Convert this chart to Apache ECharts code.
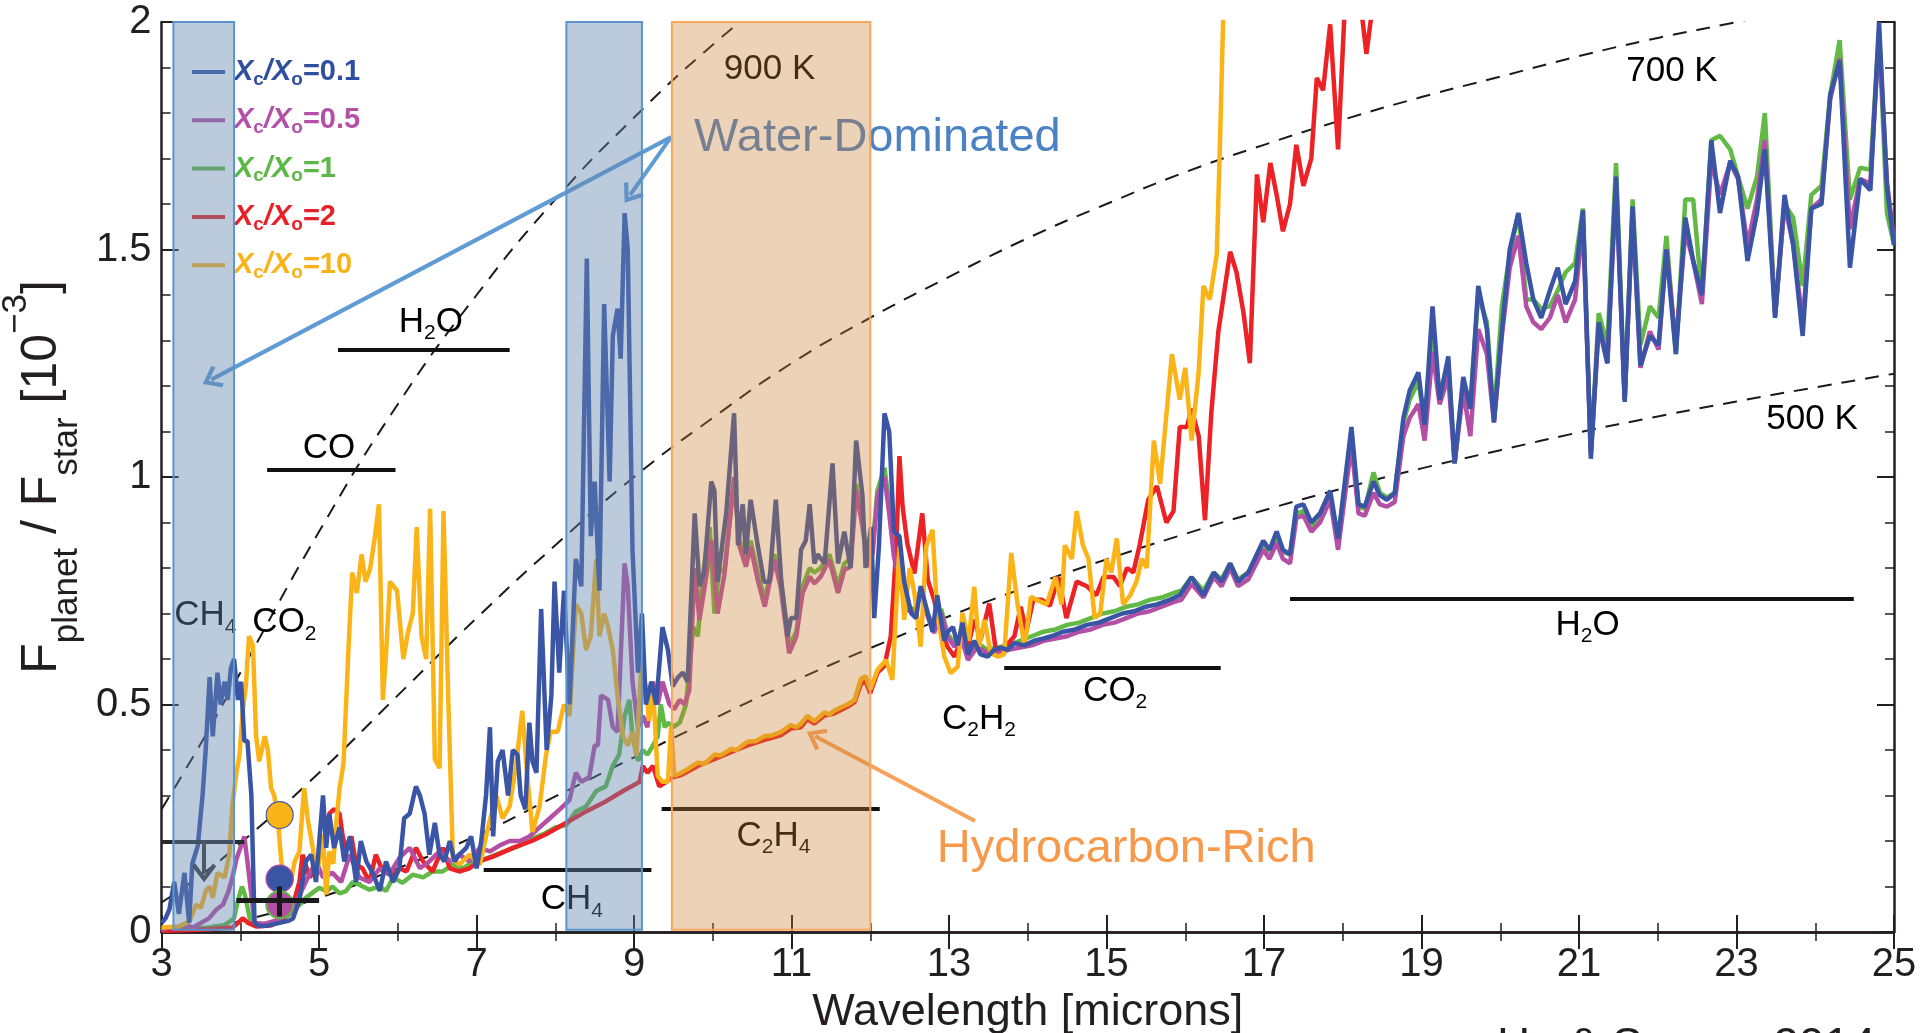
<!DOCTYPE html>
<html>
<head>
<meta charset="utf-8">
<title>Emission spectra, Hu &amp; Seager 2014</title>
<script src="https://cdn.jsdelivr.net/npm/echarts@6/dist/echarts.min.js"></script>
<style>
html, body { margin: 0; padding: 0; background: #fff; }
#main { width: 1920px; height: 1033px; }
</style>
</head>
<body>
<div id="main"></div>
<script>
// [wavelength (microns), Fplanet/Fstar (1e-3)]
const ratio01 = [[3.00,0.02],[3.05,0.03],[3.10,0.05],[3.16,0.11],[3.22,0.04],[3.29,0.13],[3.35,0.02],[3.39,0.15],[3.46,0.19],[3.52,0.30],[3.56,0.40],[3.61,0.56],[3.65,0.43],[3.71,0.57],[3.75,0.50],[3.80,0.55],[3.84,0.51],[3.88,0.58],[3.92,0.60],[3.97,0.51],[4.01,0.55],[4.05,0.42],[4.09,0.42],[4.14,0.30],[4.18,0.02],[4.24,0.013],[4.35,0.014],[4.50,0.02],[4.62,0.025],[4.67,0.03],[4.75,0.07],[4.83,0.155],[4.90,0.17],[4.96,0.11],[5.05,0.30],[5.09,0.185],[5.13,0.26],[5.19,0.185],[5.26,0.23],[5.32,0.155],[5.39,0.21],[5.47,0.11],[5.53,0.20],[5.60,0.155],[5.68,0.13],[5.77,0.09],[5.85,0.155],[5.94,0.11],[6.02,0.14],[6.08,0.25],[6.15,0.26],[6.23,0.32],[6.28,0.30],[6.34,0.26],[6.40,0.17],[6.47,0.24],[6.53,0.17],[6.59,0.155],[6.66,0.20],[6.72,0.155],[6.78,0.17],[6.87,0.185],[6.93,0.21],[7.00,0.14],[7.06,0.20],[7.12,0.30],[7.17,0.45],[7.21,0.21],[7.27,0.375],[7.33,0.40],[7.40,0.30],[7.46,0.40],[7.52,0.39],[7.56,0.30],[7.62,0.27],[7.67,0.46],[7.71,0.375],[7.76,0.35],[7.82,0.71],[7.89,0.40],[7.95,0.52],[7.99,0.77],[8.05,0.57],[8.11,0.75],[8.18,0.50],[8.26,0.82],[8.33,0.76],[8.40,1.48],[8.45,0.87],[8.50,0.99],[8.56,0.75],[8.62,1.38],[8.69,0.99],[8.73,1.31],[8.79,1.37],[8.83,1.26],[8.88,1.58],[8.92,1.50],[8.98,0.84],[9.05,0.57],[9.10,0.70],[9.15,0.50],[9.22,0.55],[9.28,0.50],[9.36,0.67],[9.43,0.62],[9.49,0.54],[9.56,0.56],[9.62,0.57],[9.68,0.55],[9.77,0.92],[9.83,0.76],[9.89,0.79],[9.98,0.99],[10.02,0.97],[10.06,0.77],[10.17,0.92],[10.27,1.14],[10.32,0.85],[10.38,0.94],[10.42,0.83],[10.48,0.95],[10.57,0.85],[10.65,0.77],[10.72,0.77],[10.80,0.95],[10.87,0.77],[10.95,0.65],[10.99,0.69],[11.06,0.69],[11.12,0.84],[11.18,0.86],[11.23,0.94],[11.29,0.81],[11.33,0.83],[11.42,0.81],[11.52,1.03],[11.59,0.81],[11.67,0.88],[11.75,0.80],[11.82,1.08],[11.90,0.96],[11.94,0.80],[12.01,0.89],[12.05,0.69],[12.11,0.85],[12.18,1.14],[12.24,1.10],[12.30,0.88],[12.37,0.87],[12.43,0.77],[12.52,0.70],[12.58,0.69],[12.64,0.76],[12.73,0.70],[12.79,0.66],[12.85,0.74],[12.94,0.64],[12.98,0.66],[13.05,0.67],[13.11,0.63],[13.17,0.68],[13.24,0.61],[13.32,0.64],[13.40,0.61],[13.49,0.605],[13.57,0.62],[13.66,0.625],[13.74,0.62],[13.83,0.635],[13.96,0.63],[14.08,0.64],[14.20,0.645],[14.30,0.65],[14.45,0.66],[14.60,0.665],[14.75,0.675],[14.90,0.68],[15.05,0.69],[15.20,0.70],[15.35,0.705],[15.50,0.715],[15.64,0.72],[15.80,0.73],[15.93,0.74],[16.08,0.78],[16.23,0.74],[16.36,0.79],[16.46,0.77],[16.57,0.81],[16.67,0.77],[16.80,0.79],[16.99,0.86],[17.07,0.84],[17.16,0.88],[17.24,0.84],[17.33,0.83],[17.41,0.935],[17.50,0.94],[17.60,0.90],[17.71,0.92],[17.84,0.97],[17.94,0.865],[18.11,1.11],[18.20,0.94],[18.28,0.935],[18.39,0.99],[18.47,0.96],[18.56,0.95],[18.66,0.965],[18.77,1.13],[18.85,1.19],[18.96,1.23],[19.04,1.115],[19.14,1.375],[19.23,1.17],[19.34,1.265],[19.42,1.03],[19.53,1.22],[19.62,1.15],[19.72,1.42],[19.83,1.325],[19.92,1.12],[20.02,1.32],[20.12,1.50],[20.23,1.58],[20.33,1.47],[20.42,1.39],[20.52,1.35],[20.63,1.41],[20.73,1.46],[20.83,1.38],[20.95,1.43],[21.05,1.586],[21.15,1.04],[21.25,1.34],[21.36,1.25],[21.47,1.66],[21.58,1.165],[21.68,1.595],[21.78,1.245],[21.90,1.31],[22.01,1.29],[22.11,1.50],[22.23,1.27],[22.35,1.57],[22.45,1.475],[22.56,1.40],[22.68,1.74],[22.79,1.58],[22.92,1.695],[23.02,1.66],[23.14,1.475],[23.26,1.58],[23.36,1.72],[23.49,1.35],[23.61,1.62],[23.72,1.51],[23.84,1.31],[23.95,1.59],[24.08,1.60],[24.19,1.84],[24.31,1.915],[24.44,1.46],[24.57,1.655],[24.70,1.63],[24.81,2.0],[24.91,1.64],[25.00,1.51]];

const ratio05 = [[3.00,0.005],[3.10,0.01],[3.20,0.008],[3.30,0.015],[3.40,0.01],[3.50,0.02],[3.60,0.03],[3.70,0.05],[3.78,0.06],[3.85,0.09],[3.90,0.12],[3.95,0.16],[4.01,0.19],[4.05,0.21],[4.09,0.155],[4.14,0.08],[4.18,0.02],[4.30,0.018],[4.45,0.025],[4.62,0.04],[4.75,0.08],[4.83,0.11],[4.96,0.155],[5.05,0.12],[5.17,0.13],[5.28,0.11],[5.39,0.17],[5.51,0.12],[5.64,0.11],[5.77,0.14],[5.89,0.126],[6.02,0.163],[6.15,0.185],[6.28,0.14],[6.40,0.155],[6.53,0.177],[6.66,0.155],[6.78,0.17],[6.91,0.155],[7.04,0.185],[7.17,0.177],[7.29,0.19],[7.42,0.20],[7.55,0.20],[7.67,0.21],[7.80,0.23],[7.93,0.25],[8.06,0.27],[8.18,0.29],[8.26,0.35],[8.33,0.33],[8.43,0.34],[8.50,0.41],[8.54,0.41],[8.58,0.52],[8.67,0.51],[8.73,0.45],[8.79,0.44],[8.88,0.81],[8.92,0.76],[8.98,0.55],[9.05,0.45],[9.11,0.475],[9.17,0.45],[9.24,0.55],[9.30,0.50],[9.36,0.55],[9.45,0.50],[9.51,0.49],[9.58,0.51],[9.64,0.50],[9.70,0.53],[9.77,0.80],[9.83,0.686],[9.91,0.774],[9.98,0.862],[10.06,0.70],[10.15,0.788],[10.27,1.0],[10.34,0.847],[10.42,0.803],[10.48,0.847],[10.57,0.774],[10.66,0.715],[10.78,0.818],[10.86,0.759],[10.97,0.613],[11.06,0.649],[11.14,0.745],[11.23,0.781],[11.29,0.766],[11.37,0.781],[11.48,0.818],[11.59,0.745],[11.67,0.796],[11.75,0.803],[11.82,0.971],[11.90,0.891],[11.97,0.803],[12.03,0.832],[12.09,0.957],[12.18,1.0],[12.24,0.92],[12.30,0.825],[12.39,0.759],[12.47,0.708],[12.56,0.701],[12.64,0.745],[12.73,0.693],[12.81,0.657],[12.90,0.701],[12.98,0.649],[13.07,0.627],[13.15,0.649],[13.24,0.598],[13.36,0.627],[13.49,0.613],[13.60,0.61],[13.75,0.62],[13.90,0.625],[14.05,0.63],[14.20,0.64],[14.35,0.645],[14.50,0.65],[14.65,0.66],[14.80,0.665],[14.95,0.675],[15.10,0.68],[15.25,0.69],[15.40,0.70],[15.55,0.705],[15.70,0.715],[15.85,0.725],[15.95,0.73],[16.08,0.765],[16.23,0.735],[16.36,0.78],[16.46,0.76],[16.57,0.80],[16.67,0.76],[16.80,0.775],[16.99,0.84],[17.07,0.82],[17.16,0.855],[17.24,0.82],[17.33,0.81],[17.41,0.91],[17.50,0.915],[17.60,0.88],[17.71,0.90],[17.84,0.95],[17.94,0.84],[18.11,1.07],[18.20,0.92],[18.28,0.915],[18.39,0.965],[18.47,0.94],[18.56,0.935],[18.66,0.945],[18.77,1.09],[18.85,1.13],[18.96,1.16],[19.04,1.08],[19.14,1.275],[19.23,1.16],[19.34,1.22],[19.42,1.03],[19.53,1.19],[19.62,1.09],[19.72,1.325],[19.83,1.27],[19.92,1.12],[20.02,1.31],[20.12,1.46],[20.23,1.53],[20.33,1.375],[20.42,1.34],[20.52,1.325],[20.63,1.35],[20.73,1.40],[20.83,1.34],[20.95,1.39],[21.05,1.56],[21.15,1.05],[21.25,1.33],[21.36,1.25],[21.47,1.64],[21.58,1.17],[21.68,1.58],[21.78,1.24],[21.90,1.32],[22.01,1.28],[22.11,1.50],[22.23,1.29],[22.35,1.54],[22.45,1.475],[22.56,1.38],[22.68,1.695],[22.79,1.62],[22.92,1.69],[23.02,1.655],[23.14,1.51],[23.26,1.61],[23.36,1.74],[23.49,1.355],[23.61,1.60],[23.72,1.51],[23.84,1.34],[23.95,1.59],[24.08,1.61],[24.19,1.83],[24.31,1.92],[24.44,1.545],[24.57,1.655],[24.70,1.645],[24.81,1.97],[24.91,1.65],[25.00,1.52]];

const ratio1 = [[3.00,0.005],[3.20,0.006],[3.40,0.008],[3.60,0.01],[3.80,0.015],[3.92,0.03],[3.97,0.07],[4.02,0.10],[4.06,0.08],[4.12,0.03],[4.18,0.015],[4.30,0.015],[4.45,0.02],[4.60,0.035],[4.67,0.045],[4.83,0.075],[5.00,0.097],[5.10,0.09],[5.17,0.10],[5.26,0.085],[5.34,0.09],[5.43,0.11],[5.51,0.104],[5.64,0.093],[5.77,0.10],[5.85,0.09],[5.94,0.12],[6.06,0.108],[6.19,0.126],[6.32,0.12],[6.44,0.133],[6.57,0.133],[6.70,0.148],[6.83,0.14],[6.95,0.155],[7.10,0.16],[7.25,0.17],[7.40,0.18],[7.55,0.19],[7.70,0.205],[7.85,0.215],[8.00,0.23],[8.14,0.235],[8.26,0.265],[8.39,0.276],[8.52,0.31],[8.64,0.32],[8.73,0.365],[8.81,0.39],[8.88,0.475],[8.94,0.51],[8.98,0.43],[9.05,0.376],[9.11,0.40],[9.17,0.39],[9.24,0.41],[9.30,0.43],[9.34,0.50],[9.39,0.45],[9.43,0.46],[9.49,0.45],[9.58,0.46],[9.66,0.50],[9.75,0.67],[9.81,0.65],[9.87,0.78],[9.96,0.89],[10.02,0.70],[10.08,0.79],[10.15,0.80],[10.27,0.99],[10.34,0.86],[10.42,0.82],[10.48,0.86],[10.57,0.79],[10.66,0.73],[10.78,0.83],[10.86,0.78],[10.97,0.63],[11.06,0.66],[11.14,0.76],[11.23,0.80],[11.29,0.79],[11.37,0.80],[11.48,0.83],[11.59,0.76],[11.67,0.81],[11.75,0.82],[11.82,0.985],[11.90,0.90],[11.97,0.82],[12.03,0.85],[12.09,0.97],[12.18,1.02],[12.24,0.94],[12.30,0.84],[12.39,0.77],[12.47,0.72],[12.56,0.705],[12.64,0.75],[12.73,0.70],[12.81,0.665],[12.90,0.71],[12.98,0.655],[13.07,0.635],[13.15,0.655],[13.24,0.605],[13.36,0.635],[13.49,0.62],[13.60,0.625],[13.75,0.63],[13.90,0.64],[14.05,0.65],[14.20,0.66],[14.35,0.665],[14.50,0.675],[14.65,0.68],[14.80,0.69],[14.95,0.70],[15.10,0.705],[15.25,0.715],[15.40,0.72],[15.55,0.73],[15.70,0.735],[15.85,0.745],[15.95,0.75],[16.08,0.78],[16.23,0.75],[16.36,0.79],[16.46,0.775],[16.57,0.81],[16.67,0.775],[16.80,0.79],[16.99,0.85],[17.07,0.835],[17.16,0.87],[17.24,0.835],[17.33,0.83],[17.41,0.92],[17.50,0.925],[17.60,0.89],[17.71,0.915],[17.84,0.96],[17.94,0.86],[18.11,1.09],[18.20,0.935],[18.28,0.93],[18.39,1.01],[18.47,0.965],[18.56,0.955],[18.66,0.965],[18.77,1.12],[18.85,1.17],[18.96,1.21],[19.04,1.12],[19.14,1.31],[19.23,1.18],[19.34,1.25],[19.42,1.03],[19.53,1.21],[19.62,1.16],[19.72,1.40],[19.83,1.34],[19.92,1.13],[20.02,1.375],[20.12,1.49],[20.23,1.58],[20.33,1.39],[20.42,1.39],[20.52,1.37],[20.63,1.375],[20.73,1.41],[20.83,1.45],[20.95,1.47],[21.05,1.59],[21.15,1.05],[21.25,1.36],[21.36,1.29],[21.47,1.69],[21.58,1.17],[21.68,1.61],[21.78,1.29],[21.90,1.375],[22.01,1.35],[22.11,1.53],[22.23,1.27],[22.35,1.61],[22.45,1.61],[22.56,1.40],[22.68,1.74],[22.79,1.75],[22.92,1.72],[23.02,1.66],[23.14,1.59],[23.26,1.66],[23.36,1.80],[23.49,1.355],[23.61,1.60],[23.72,1.57],[23.84,1.42],[23.95,1.62],[24.08,1.64],[24.19,1.84],[24.31,1.96],[24.44,1.61],[24.57,1.68],[24.70,1.675],[24.81,1.98],[24.91,1.58],[25.00,1.51]];

const ratio2 = [[3.00,0.003],[3.30,0.004],[3.60,0.006],[3.90,0.01],[3.97,0.02],[4.03,0.03],[4.10,0.02],[4.20,0.012],[4.40,0.015],[4.55,0.03],[4.67,0.06],[4.75,0.11],[4.79,0.17],[4.88,0.12],[4.96,0.14],[5.05,0.19],[5.13,0.26],[5.19,0.27],[5.26,0.26],[5.30,0.21],[5.34,0.185],[5.41,0.21],[5.47,0.148],[5.55,0.14],[5.64,0.11],[5.72,0.17],[5.81,0.133],[5.94,0.126],[6.02,0.14],[6.11,0.133],[6.23,0.185],[6.32,0.155],[6.44,0.133],[6.57,0.185],[6.66,0.14],[6.78,0.133],[6.91,0.14],[7.03,0.155],[7.20,0.165],[7.46,0.185],[7.70,0.20],[7.88,0.215],[8.14,0.24],[8.39,0.265],[8.64,0.287],[8.86,0.31],[9.07,0.33],[9.11,0.365],[9.17,0.35],[9.24,0.365],[9.32,0.32],[9.41,0.33],[9.49,0.34],[9.60,0.345],[9.81,0.365],[10.02,0.38],[10.23,0.395],[10.44,0.41],[10.65,0.422],[10.87,0.433],[10.99,0.447],[11.12,0.45],[11.20,0.468],[11.29,0.458],[11.42,0.476],[11.54,0.48],[11.63,0.488],[11.71,0.495],[11.80,0.505],[11.88,0.545],[11.94,0.55],[12.00,0.525],[12.09,0.57],[12.18,0.585],[12.26,0.65],[12.33,0.847],[12.37,1.046],[12.41,0.935],[12.47,0.854],[12.56,0.788],[12.66,0.92],[12.73,0.774],[12.81,0.73],[12.90,0.664],[12.98,0.627],[13.07,0.605],[13.15,0.642],[13.24,0.627],[13.32,0.686],[13.40,0.642],[13.51,0.722],[13.60,0.613],[13.68,0.62],[13.83,0.65],[13.91,0.715],[13.98,0.66],[14.07,0.73],[14.18,0.73],[14.28,0.717],[14.39,0.78],[14.49,0.69],[14.62,0.77],[14.75,0.76],[14.87,0.74],[14.96,0.78],[15.09,0.78],[15.17,0.76],[15.26,0.80],[15.34,0.79],[15.42,0.85],[15.53,0.95],[15.64,0.98],[15.76,0.90],[15.85,0.925],[15.93,1.11],[16.02,1.11],[16.08,1.15],[16.17,1.09],[16.25,0.905],[16.33,1.14],[16.42,1.32],[16.48,1.39],[16.57,1.495],[16.65,1.45],[16.74,1.36],[16.82,1.25],[16.91,1.665],[16.99,1.56],[17.08,1.69],[17.16,1.62],[17.24,1.54],[17.33,1.60],[17.41,1.73],[17.50,1.64],[17.60,1.70],[17.67,1.877],[17.75,1.85],[17.84,1.995],[17.94,1.72],[18.03,2.05],[18.12,2.30],[18.22,2.05],[18.30,1.93],[18.39,2.05],[18.50,2.40]];

const ratio10 = [[3.00,0.01],[3.22,0.012],[3.35,0.023],[3.44,0.06],[3.50,0.053],[3.56,0.09],[3.61,0.10],[3.65,0.075],[3.71,0.13],[3.80,0.12],[3.86,0.17],[3.90,0.28],[3.95,0.35],[3.99,0.39],[4.03,0.485],[4.07,0.54],[4.11,0.65],[4.16,0.63],[4.20,0.43],[4.24,0.375],[4.31,0.43],[4.35,0.40],[4.39,0.316],[4.43,0.30],[4.47,0.26],[4.52,0.155],[4.58,0.097],[4.64,0.11],[4.69,0.155],[4.75,0.177],[4.81,0.316],[4.86,0.243],[4.92,0.185],[4.96,0.12],[5.00,0.155],[5.05,0.214],[5.09,0.082],[5.13,0.177],[5.18,0.15],[5.22,0.243],[5.26,0.316],[5.31,0.37],[5.37,0.61],[5.42,0.79],[5.48,0.745],[5.54,0.83],[5.59,0.77],[5.65,0.80],[5.71,0.87],[5.76,0.94],[5.81,0.51],[5.85,0.61],[5.90,0.77],[5.99,0.75],[6.07,0.60],[6.13,0.66],[6.19,0.70],[6.24,0.89],[6.30,0.65],[6.36,0.60],[6.41,0.93],[6.47,0.38],[6.53,0.36],[6.58,0.925],[6.64,0.515],[6.70,0.16],[6.78,0.148],[6.91,0.17],[7.04,0.148],[7.16,0.24],[7.25,0.30],[7.33,0.25],[7.42,0.276],[7.50,0.365],[7.58,0.486],[7.65,0.33],[7.71,0.22],[7.80,0.276],[7.88,0.387],[7.94,0.44],[8.03,0.44],[8.11,0.50],[8.18,0.475],[8.26,0.72],[8.33,0.70],[8.39,0.62],[8.45,0.65],[8.52,0.82],[8.56,0.65],[8.62,0.70],[8.67,0.67],[8.73,0.62],[8.79,0.52],[8.86,0.43],[8.92,0.41],[8.98,0.44],[9.03,0.387],[9.09,0.585],[9.15,0.54],[9.19,0.464],[9.24,0.54],[9.30,0.343],[9.36,0.33],[9.43,0.33],[9.47,0.453],[9.51,0.343],[9.60,0.35],[9.70,0.36],[9.81,0.372],[9.90,0.37],[10.02,0.39],[10.10,0.388],[10.23,0.402],[10.30,0.40],[10.44,0.418],[10.55,0.42],[10.65,0.43],[10.75,0.432],[10.87,0.44],[10.99,0.455],[11.06,0.45],[11.12,0.458],[11.20,0.475],[11.29,0.463],[11.42,0.483],[11.48,0.478],[11.54,0.486],[11.63,0.494],[11.71,0.50],[11.80,0.51],[11.88,0.556],[11.94,0.562],[12.00,0.533],[12.09,0.576],[12.20,0.598],[12.28,0.554],[12.37,0.847],[12.43,0.686],[12.50,0.80],[12.56,0.745],[12.64,0.627],[12.71,0.847],[12.79,0.884],[12.85,0.701],[12.94,0.605],[13.02,0.569],[13.11,0.583],[13.17,0.701],[13.25,0.64],[13.32,0.759],[13.38,0.627],[13.45,0.686],[13.53,0.613],[13.62,0.605],[13.70,0.61],[13.79,0.833],[13.87,0.72],[13.96,0.627],[14.04,0.737],[14.11,0.73],[14.24,0.72],[14.35,0.78],[14.43,0.72],[14.47,0.85],[14.56,0.82],[14.62,0.925],[14.70,0.85],[14.77,0.82],[14.85,0.69],[14.92,0.70],[15.00,0.82],[15.06,0.79],[15.13,0.865],[15.21,0.72],[15.30,0.74],[15.38,0.77],[15.45,0.82],[15.51,0.80],[15.60,1.08],[15.68,0.985],[15.83,1.27],[15.93,1.17],[16.00,1.24],[16.08,1.08],[16.17,1.23],[16.23,1.42],[16.31,1.39],[16.40,1.49],[16.44,1.73],[16.48,2.0],[16.55,2.5]];

// blackbody reference curves
const bbWave = [3, 3.5, 4, 5, 6, 7, 8, 9, 10, 11, 12, 13, 14, 15, 16, 17, 18, 19, 20, 21, 22, 23, 24, 25];
const bb900 = [0.27, 0.415, 0.57, 0.88, 1.16, 1.40, 1.61, 1.79, 1.95, 2.09];
const bb700 = [0.065, 0.125, 0.195, 0.35, 0.52, 0.69, 0.85, 1.0, 1.13, 1.25, 1.35, 1.44, 1.525, 1.60, 1.67, 1.73, 1.785, 1.835, 1.88, 1.925, 1.965, 2.0, 2.04];
const bb500 = [0.004, 0.011, 0.024, 0.075, 0.14, 0.212, 0.298, 0.384, 0.468, 0.549, 0.624, 0.694, 0.759, 0.819, 0.875, 0.927, 0.975, 1.019, 1.059, 1.098, 1.133, 1.166, 1.197, 1.227];

const waterBands = [[3.15, 3.92], [8.14, 9.10]];
const hcBand = [9.48, 12.0];

// molecule bars: [from, to, level]
const molBars = [[5.24, 7.42, 1.279], [4.34, 5.97, 1.016], [7.09, 9.22, 0.136], [9.35, 12.12, 0.27], [13.70, 16.45, 0.581], [17.33, 24.49, 0.732]];
const molLabels = [['H{s|2}O', 6.42, 1.341], ['CO', 5.125, 1.063], ['CH{s|4}', 3.555, 0.695], ['CO{s|2}', 4.56, 0.68], ['CH{s|4}', 8.21, 0.071], ['C{s|2}H{s|4}', 10.77, 0.211], ['C{s|2}H{s|2}', 13.38, 0.468], ['CO{s|2}', 15.11, 0.530], ['H{s|2}O', 21.11, 0.675]];
const tempLabels = [['900 K', 10.72, 1.895], ['700 K', 22.18, 1.891], ['500 K', 23.96, 1.126]];
const waterLabel = ['Water-Dominated', 12.09, 1.745];
const hcLabel = ['Hydrocarbon-Rich', 15.25, 0.182];
const waterArrows = [[[9.47, 1.747], [3.63, 1.214]], [[9.47, 1.747], [8.95, 1.62]]];
const hcArrow = [[13.33, 0.244], [11.3, 0.43]];

// observations at 4.5 microns
const obsX = 4.5;
const obsY = [0.257, 0.117, 0.06];
const obsBar = { x0: 3.95, x1: 5.0, y: 0.069, lo: 0.034, hi: 0.10 };
const upperLimit = { x0: 3.0, x1: 4.05, y: 0.199, xa: 3.54, ya: 0.13 };

const legendLabels = ['0.1', '0.5', '1', '2', '10'];

const FONT = 'Liberation Sans, Arial, Helvetica, sans-serif';
const INK = '#231f20';
const C = { b: '#3a55a5', p: '#b34fa5', g: '#62b946', r: '#ec2227', y: '#fbb417' };
const chevron = 'path://M12,0 L24,15 L21,18 L12,6.5 L3,18 L0,15 Z';

const chart = echarts.init(document.getElementById('main'));

function spec (name, data, color, z) {
  return {
    name, type: 'line', data, z, symbol: 'none', silent: true, clip: true,
    lineStyle: { color, width: 4.5 }, itemStyle: { color }
  };
}
function bb (vals) {
  return {
    type: 'line', z: 1, symbol: 'none', smooth: true, silent: true, clip: true,
    data: vals.map((v, i) => [bbWave[i], v]),
    lineStyle: { color: '#1a1a1a', width: 2, type: [14, 10] }
  };
}
function seg (a, b, style) {
  return [{ coord: a, lineStyle: style }, { coord: b }];
}

const axisCommon = {
  type: 'value', splitLine: { show: false },
  axisLine: { lineStyle: { color: INK, width: 2.5 } },
  axisTick: { inside: true, length: 17, lineStyle: { color: INK, width: 2 } },
  minorTick: { show: true, length: 9, lineStyle: { color: INK, width: 1.5 } }
};

const bandStyleBlue = { color: 'rgba(100,135,175,0.43)', borderColor: '#5b95cf', borderWidth: 2 };
const bandStyleOrange = { color: 'rgba(200,125,50,0.35)', borderColor: '#f6a75c', borderWidth: 2 };

const option = {
  animation: false,
  backgroundColor: '#fff',
  grid: { left: 161.6, right: 26, top: 22, bottom: 101, outerBoundsMode: 'none', containLabel: false },
  xAxis: [
    Object.assign({}, axisCommon, {
      min: 3, max: 25, interval: 2, minorTick: Object.assign({}, axisCommon.minorTick, { splitNumber: 2 }),
      axisLabel: { fontSize: 40, color: INK, fontFamily: FONT, margin: 13 },
      name: 'Wavelength [microns]', nameLocation: 'middle', nameGap: 51,
      nameTextStyle: { fontSize: 45, color: INK, fontFamily: FONT }
    }),
    Object.assign({}, axisCommon, {
      position: 'top', min: 3, max: 25, interval: 2, minorTick: Object.assign({}, axisCommon.minorTick, { splitNumber: 2 }),
      axisLabel: { show: false }
    })
  ],
  yAxis: [
    Object.assign({}, axisCommon, {
      min: 0, max: 2, interval: 0.5, minorTick: Object.assign({}, axisCommon.minorTick, { splitNumber: 5 }),
      axisLabel: { fontSize: 40, color: INK, fontFamily: FONT, margin: 10 },
      name: '{F|F}{s|planet}{n| / F}{s|star}{n| [10}{p|\u22123}{n|]}',
      nameLocation: 'middle', nameGap: 76,
      nameTextStyle: {
        color: INK, fontFamily: FONT, fontSize: 50,
        rich: {
          F: { fontSize: 50, lineHeight: 86, fontFamily: FONT, color: INK },
          n: { fontSize: 50, lineHeight: 86, fontFamily: FONT, color: INK },
          s: { fontSize: 35, lineHeight: 24, verticalAlign: 'bottom', fontFamily: FONT, color: INK },
          p: { fontSize: 35, lineHeight: 44, verticalAlign: 'top', fontFamily: FONT, color: INK }
        }
      }
    }),
    Object.assign({}, axisCommon, {
      position: 'right', min: 0, max: 2, interval: 0.5, minorTick: Object.assign({}, axisCommon.minorTick, { splitNumber: 5 }),
      axisLabel: { show: false }
    })
  ],
  graphic: [],
  series: [
    bb(bb900), bb(bb700), bb(bb500),
    spec('Xc/Xo=1', ratio1, C.g, 2),
    spec('Xc/Xo=2', ratio2, C.r, 3),
    spec('Xc/Xo=0.5', ratio05, C.p, 4),
    spec('Xc/Xo=10', ratio10, C.y, 5),
    spec('Xc/Xo=0.1', ratio01, C.b, 6),
    {
      // molecule bars and the upper-limit bar
      type: 'line', data: [], z: 7, silent: true,
      markLine: {
        z: 7, silent: true, animation: false, symbol: 'none', label: { show: false },
        lineStyle: { color: '#111', width: 4, type: 'solid' },
        data: molBars.map(b => seg([b[0], b[2]], [b[1], b[2]], { color: '#111', width: 4, type: 'solid' }))
          .concat([seg([upperLimit.x0, upperLimit.y], [upperLimit.x1, upperLimit.y], { color: '#2a2a2a', width: 4, type: 'solid' })])
      }
    },
    {
      type: 'line', data: [], z: 7, silent: true,
      markLine: {
        z: 7, silent: true, animation: false, symbol: ['none', chevron], symbolSize: [24, 19], label: { show: false },
        data: waterArrows.map(a => seg(a[0], a[1], { color: '#5f9bd4', width: 4, type: 'solid' }))
          .concat([seg(hcArrow[0], hcArrow[1], { color: '#f7a35c', width: 4, type: 'solid' })])
          .concat([seg([upperLimit.xa, upperLimit.y], [upperLimit.xa, upperLimit.ya], { color: '#3a3a3a', width: 4, type: 'solid' })])
      }
    },
    {
      // text annotations
      type: 'scatter', z: 8, silent: true, symbolSize: 1, itemStyle: { color: 'rgba(0,0,0,0)', opacity: 1 },
      label: {
        show: true, position: 'inside', formatter: p => p.name, color: '#000', fontFamily: FONT, fontSize: 35,
        lineHeight: 44, opacity: 1,
        rich: {
          s: { fontSize: 21, lineHeight: 6, verticalAlign: 'bottom', fontFamily: FONT }
        }
      },
      data: molLabels.concat(tempLabels).map(l => ({ name: l[0], value: [l[1], l[2]] }))
        .concat([
          { name: waterLabel[0], value: [waterLabel[1], waterLabel[2]], label: { fontSize: 47, color: '#4a82c4' } },
          { name: hcLabel[0], value: [hcLabel[1], hcLabel[2]], label: { fontSize: 47, color: '#f7994b' } }
        ])
    },
    {
      // observed points
      type: 'scatter', z: 9, silent: true, symbolSize: 27,
      data: [
        { value: [obsX, obsY[0]], itemStyle: { color: C.y, borderColor: '#4a58a0', borderWidth: 1.2, opacity: 1 } },
        { value: [obsX, obsY[1]], itemStyle: { color: C.b, borderColor: '#9a4fa0', borderWidth: 1.5, opacity: 1 } },
        { value: [obsX, obsY[2]], itemStyle: { color: C.p, borderColor: C.g, borderWidth: 2, opacity: 1 } }
      ]
    },
    {
      type: 'line', data: [], z: 10, silent: true,
      markLine: {
        z: 10, silent: true, animation: false, symbol: 'none', label: { show: false },
        data: [
          seg([obsBar.x0, obsBar.y], [obsBar.x1, obsBar.y], { color: '#1a1a1a', width: 5, type: 'solid' }),
          seg([obsX, obsBar.lo], [obsX, obsBar.hi], { color: '#1a1a1a', width: 5, type: 'solid' })
        ]
      }
    },
    {
      // shaded bands drawn over the spectra
      type: 'line', data: [], z: 20, silent: true,
      markArea: {
        z: 20, silent: true, animation: false,
        data: waterBands.map(b => [{ xAxis: b[0], yAxis: 0.005, itemStyle: bandStyleBlue }, { xAxis: b[1], yAxis: 2 }])
          .concat([[{ xAxis: hcBand[0], yAxis: 0.005, itemStyle: bandStyleOrange }, { xAxis: hcBand[1], yAxis: 2 }]])
      }
    }
  ]
};

// legend drawn by hand, top left of the plot
const legendColors = [C.b, C.p, C.g, C.r, C.y];
const legendTextColors = ['#2f4fa0', '#b450a8', '#5cb846', '#e82028', '#f9b218'];
legendLabels.forEach((lab, i) => {
  const y = 72 + i * 48.3;
  option.graphic.push({
    type: 'line', z: 0, silent: true,
    shape: { x1: 192, y1: y, x2: 225, y2: y },
    style: { stroke: legendColors[i], lineWidth: 4 }
  });
  option.graphic.push({
    type: 'text', z: 0, silent: true, x: 234, y: y,
    style: {
      text: '{i|X}{s|c}{i|/X}{s|o}{b|=' + lab + '}',
      fill: legendTextColors[i], verticalAlign: 'middle', align: 'left',
      rich: {
        i: { fontStyle: 'italic', fontWeight: 'bold', fontSize: 29, lineHeight: 34, fontFamily: FONT, fill: legendTextColors[i] },
        s: { fontWeight: 'bold', fontSize: 19, lineHeight: 12, verticalAlign: 'bottom', fontFamily: FONT, fill: legendTextColors[i] },
        b: { fontWeight: 'bold', fontSize: 29, lineHeight: 34, fontFamily: FONT, fill: legendTextColors[i] }
      }
    }
  });
});
option.graphic.push({
  type: 'text', silent: true, x: 1497, y: 1024,
  style: { text: 'Hu & Seager 2014', fill: INK, font: '46px ' + FONT, verticalAlign: 'top', align: 'left' }
});

chart.setOption(option);
window.addEventListener('resize', () => chart.resize());
</script>
</body>
</html>
